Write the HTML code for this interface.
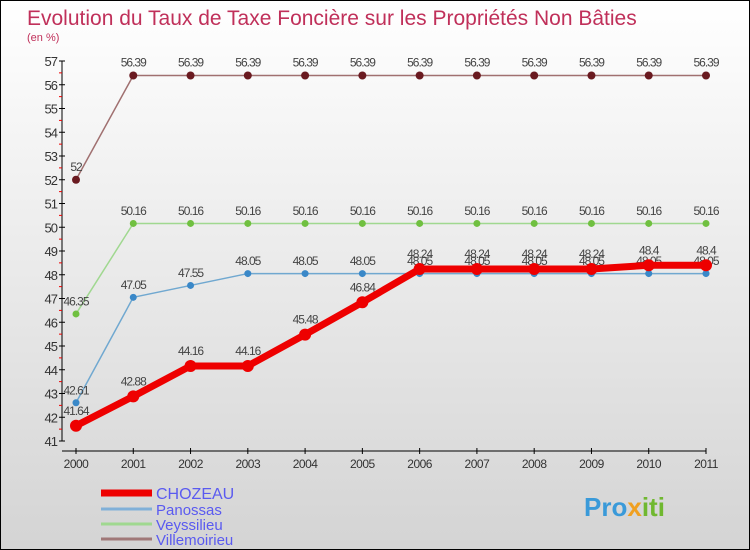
<!DOCTYPE html>
<html><head><meta charset="utf-8"><style>
body{margin:0}
#c{width:748px;height:548px;border:1px solid #000;background:linear-gradient(#ffffff,#d4d4d4);position:relative;font-family:"Liberation Sans",sans-serif;overflow:hidden}
svg text{font-family:"Liberation Sans",sans-serif}
</style></head><body>
<div id="c">
<svg id="s" width="748" height="548">
<text x="26" y="24" font-size="21" fill="#c0305a">Evolution du Taux de Taxe Foncière sur les Propriétés Non Bâties</text>
<text x="26" y="40" font-size="11" fill="#c0305a">(en %)</text>
<g id="g"></g>
<text x="583" y="515" font-size="26" font-weight="bold" fill="#3a9ad9">Pro<tspan fill="#f0a020">x</tspan><tspan fill="#70b830">iti</tspan></text>
</svg>
</div>
<script>
const years=[2000,2001,2002,2003,2004,2005,2006,2007,2008,2009,2010,2011];
const chozeau=[41.64,42.88,44.16,44.16,45.48,46.84,48.24,48.24,48.24,48.24,48.4,48.4];
const panossas=[42.61,47.05,47.55,48.05,48.05,48.05,48.05,48.05,48.05,48.05,48.05,48.05];
const veyssilieu=[46.35,50.16,50.16,50.16,50.16,50.16,50.16,50.16,50.16,50.16,50.16,50.16];
const villemoirieu=[52,56.39,56.39,56.39,56.39,56.39,56.39,56.39,56.39,56.39,56.39,56.39];
const yTicks=[41,42,43,44,45,46,47,48,49,50,51,52,53,54,55,56,57];
const NS='http://www.w3.org/2000/svg';
const g=document.getElementById('g');
const X=i=>75+i*(630/11);
const Y=v=>440-(v-41)*23.75;
function mk(t,a,name){const e=document.createElementNS(NS,t);for(const k in a)e.setAttribute(k,a[k]);


g.appendChild(e);return e;}
mk('line',{x1:61,y1:Y(57),x2:61,y2:Y(41),stroke:'#000'},'y-axis');
mk('line',{x1:61,y1:450,x2:705,y2:450,stroke:'#000'},'x-axis');
yTicks.forEach(v=>{mk('line',{x1:58,y1:Y(v),x2:64,y2:Y(v),stroke:'#000'},'y-tick');
if(v<57)mk('line',{x1:58,y1:Y(v+0.5),x2:61,y2:Y(v+0.5),stroke:'#e00'},'y-minor-tick');
const t=mk('text',{x:56,y:Y(v)+5,'font-size':13,fill:'#333','text-anchor':'end','letter-spacing':'-1'},'y-tick-label');t.textContent=v;});
years.forEach((y,i)=>{mk('line',{x1:X(i),y1:447,x2:X(i),y2:453,stroke:'#000'},'x-tick');
const t=mk('text',{x:X(i),y:467,'font-size':12,fill:'#333','text-anchor':'middle','letter-spacing':'-0.5'},'x-tick-label');t.textContent=y;});
function series(d,color,dot,w,r,name){
mk('polyline',{points:d.map((v,i)=>X(i)+','+Y(v)).join(' '),fill:'none',stroke:color,'stroke-width':w,'stroke-linejoin':'round'},name+'-line');
d.forEach((v,i)=>{mk('circle',{cx:X(i),cy:Y(v),r:r,fill:dot},name+'-point');
const t=mk('text',{x:X(i),y:Y(v)-(r+5),'font-size':12,fill:'#444','text-anchor':'middle','letter-spacing':'-1'},name+'-value');t.textContent=v;});}
series(villemoirieu,'#a07070','#6a1a20',1.5,4,'villemoirieu');
series(veyssilieu,'#a0d890','#70c040',1.5,3.5,'veyssilieu');
series(panossas,'#70a8d0','#3a88c8',1.5,3.5,'panossas');
series(chozeau,'#ee0000','#ee0000',7,6,'chozeau');
const legN=['CHOZEAU','Panossas','Veyssilieu','Villemoirieu'];
const legC=['#ee0000','#80b0d8','#a0d890','#a07878'];
const legW=[7,3,3,3];
const legY=[492,508,523,538];
legN.forEach((n,i)=>{mk('line',{x1:100,y1:legY[i],x2:151,y2:legY[i],stroke:legC[i],'stroke-width':legW[i]},'legend-swatch');
const t=mk('text',{x:155,y:legY[i]+6,'font-size':i==0?16:15,fill:'#5a5af0'},'legend-entry');t.textContent=n;});
</script>
</body></html>
